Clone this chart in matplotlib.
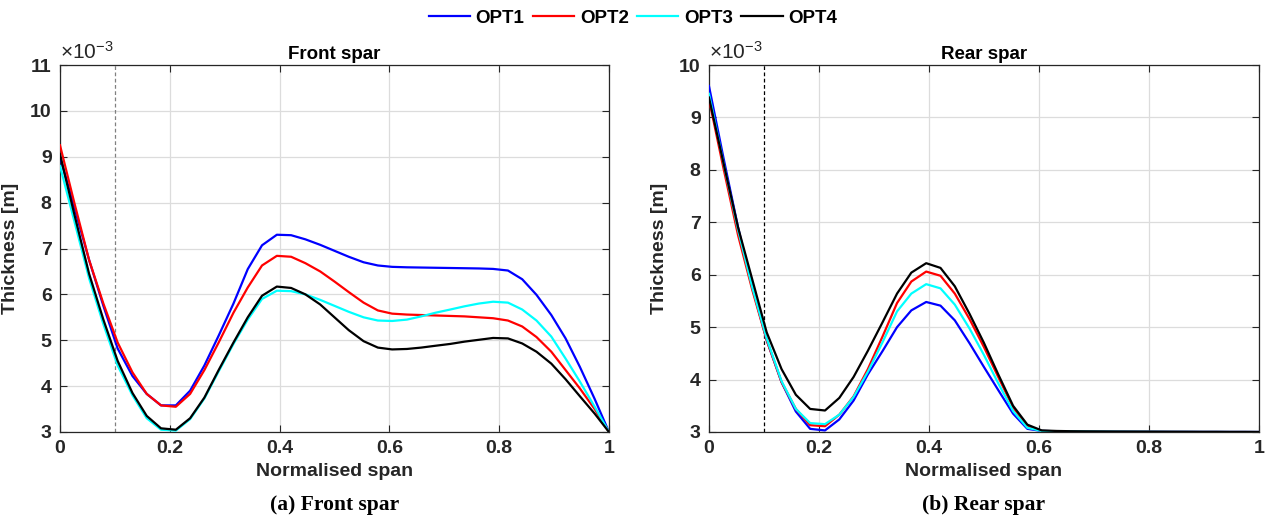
import numpy as np
import matplotlib.pyplot as plt

# normalised span stations (39 nodes)
span = [0.000, 0.026, 0.053, 0.079, 0.105, 0.132, 0.158, 0.184, 0.211, 0.237,
        0.263, 0.289, 0.316, 0.342, 0.368, 0.395, 0.421, 0.447, 0.474, 0.500,
        0.526, 0.553, 0.579, 0.605, 0.632, 0.658, 0.684, 0.711, 0.737, 0.763,
        0.789, 0.816, 0.842, 0.868, 0.895, 0.921, 0.947, 0.974, 1.000]

# front spar thickness (x1e-3 m)
front_opt1 = [9.00, 7.90, 6.75, 5.75, 4.82, 4.22, 3.83, 3.58, 3.58, 3.90,
              4.45, 5.10, 5.80, 6.55, 7.07, 7.30, 7.29, 7.20, 7.08, 6.95,
              6.82, 6.70, 6.63, 6.60, 6.59, 6.585, 6.58, 6.575, 6.57, 6.565,
              6.555, 6.52, 6.33, 5.99, 5.55, 5.04, 4.42, 3.72, 3.00]
front_opt2 = [9.25, 8.00, 6.75, 5.80, 4.95, 4.30, 3.83, 3.58, 3.55, 3.83,
              4.35, 4.95, 5.60, 6.15, 6.63, 6.84, 6.82, 6.68, 6.50, 6.28,
              6.05, 5.82, 5.65, 5.58, 5.56, 5.55, 5.54, 5.53, 5.52, 5.50,
              5.48, 5.43, 5.30, 5.07, 4.75, 4.35, 3.95, 3.50, 3.00]
front_opt3 = [8.80, 7.60, 6.35, 5.35, 4.45, 3.80, 3.30, 3.05, 3.03, 3.28,
              3.73, 4.32, 4.92, 5.45, 5.90, 6.08, 6.07, 6.00, 5.88, 5.75,
              5.62, 5.50, 5.43, 5.42, 5.45, 5.52, 5.60, 5.67, 5.74, 5.80,
              5.84, 5.82, 5.67, 5.43, 5.08, 4.60, 4.10, 3.55, 3.00]
front_opt4 = [9.05, 7.75, 6.45, 5.45, 4.55, 3.85, 3.35, 3.08, 3.05, 3.30,
              3.75, 4.35, 4.95, 5.50, 5.97, 6.17, 6.14, 6.00, 5.78, 5.50,
              5.22, 4.98, 4.84, 4.80, 4.81, 4.84, 4.88, 4.92, 4.97, 5.01,
              5.05, 5.04, 4.93, 4.75, 4.49, 4.15, 3.78, 3.40, 3.00]

# rear spar thickness (x1e-3 m)
rear_opt1 = [9.60, 8.25, 6.90, 5.75, 4.75, 3.95, 3.39, 3.06, 3.03, 3.24,
             3.60, 4.10, 4.55, 5.00, 5.32, 5.48, 5.41, 5.13, 4.69, 4.24,
             3.80, 3.35, 3.06, 3.02, 3.015, 3.012, 3.01, 3.008, 3.007, 3.006,
             3.005, 3.004, 3.003, 3.003, 3.002, 3.002, 3.001, 3.001, 3.000]
rear_opt2 = [9.35, 8.05, 6.75, 5.70, 4.75, 3.95, 3.44, 3.13, 3.11, 3.33,
             3.68, 4.20, 4.83, 5.46, 5.87, 6.06, 5.98, 5.64, 5.15, 4.62,
             4.05, 3.47, 3.11, 3.02, 3.015, 3.012, 3.01, 3.008, 3.007, 3.006,
             3.005, 3.004, 3.003, 3.003, 3.002, 3.002, 3.001, 3.001, 3.000]
rear_opt3 = [9.45, 8.15, 6.85, 5.75, 4.78, 3.97, 3.44, 3.17, 3.15, 3.33,
             3.67, 4.15, 4.72, 5.30, 5.64, 5.82, 5.74, 5.43, 4.97, 4.47,
             3.93, 3.40, 3.08, 3.02, 3.015, 3.012, 3.01, 3.008, 3.007, 3.006,
             3.005, 3.004, 3.003, 3.003, 3.002, 3.002, 3.001, 3.001, 3.000]
rear_opt4 = [9.38, 8.15, 6.90, 5.90, 4.90, 4.20, 3.71, 3.44, 3.41, 3.65,
             4.05, 4.55, 5.10, 5.64, 6.04, 6.22, 6.13, 5.78, 5.25, 4.70,
             4.10, 3.50, 3.14, 3.03, 3.02, 3.015, 3.012, 3.01, 3.008, 3.007,
             3.006, 3.005, 3.004, 3.003, 3.002, 3.002, 3.001, 3.001, 3.000]

labels = ['OPT1', 'OPT2', 'OPT3', 'OPT4']
colors = ['#0000ff', '#ff0000', '#00ffff', '#000000']

plt.rcParams['font.family'] = ['Liberation Sans', 'DejaVu Sans']
plt.rcParams['font.weight'] = 'bold'
plt.rcParams['mathtext.default'] = 'regular'
axcol = '#262626'

fig = plt.figure(figsize=(12.66, 5.23), dpi=100)
ax1 = fig.add_axes([0.0474, 0.174, 0.4336, 0.7017])
ax2 = fig.add_axes([0.560, 0.174, 0.4344, 0.7017])

panels = [
  (ax1, [front_opt1, front_opt2, front_opt3, front_opt4], 'Front spar', 11, '#808080', '(a) Front spar'),
  (ax2, [rear_opt1, rear_opt2, rear_opt3, rear_opt4], 'Rear spar', 10, '#000000', '(b) Rear spar'),
]

lines = []
for ax, series, title, ytop, dcol, caption in panels:
  lines = []
  for vals, c, lab in zip(series, colors, labels):
    ln, = ax.plot(span, vals, color=c, lw=1.6, label=lab, zorder=3)
    lines.append(ln)
  ax.axvline(0.1, color=dcol, ls=(0, (3, 2)), lw=0.9, zorder=2)
  ax.set_xlim(0, 1)
  ax.set_ylim(3, ytop)
  ax.set_xticks([0, 0.2, 0.4, 0.6, 0.8, 1])
  ax.set_xticklabels(['0', '0.2', '0.4', '0.6', '0.8', '1'])
  ax.set_yticks(range(3, ytop + 1))
  ax.grid(True, color='#dcdcdc', lw=0.9)
  ax.set_axisbelow(True)
  ax.tick_params(direction='in', top=True, right=True, length=5, width=0.8,
                 colors=axcol, labelsize=14, pad=6)
  for lbl in ax.get_xticklabels() + ax.get_yticklabels():
    lbl.set_fontweight('bold')
  for s in ax.spines.values():
    s.set_color(axcol)
    s.set_linewidth(0.9)
  ax.set_title(title, fontsize=13.5, fontweight='bold', color='black', pad=4)
  ax.set_xlabel('Normalised span', fontsize=14, fontweight='bold', color=axcol, labelpad=4)
  ax.set_ylabel('Thickness [m]', fontsize=14, fontweight='bold', color=axcol, labelpad=8)
  ax.text(0.0, 1.006, r'$\times$10$^{-3}$', transform=ax.transAxes,
          fontsize=15, color=axcol, va='bottom', ha='left', fontweight='normal')
  # sub-caption under each panel
  ax.text(0.5, -0.198, caption, transform=ax.transAxes, ha='center', va='center',
          fontsize=15.5, fontweight='bold', family='Liberation Serif', color='black')

fig.legend(lines, labels, loc='center', bbox_to_anchor=(0.5, 0.965), ncol=4,
           frameon=False, handlelength=2.2, handletextpad=0.3,
           columnspacing=0.45, prop={'weight': 'bold', 'size': 13.5})

plt.savefig('out.png', dpi=100)
